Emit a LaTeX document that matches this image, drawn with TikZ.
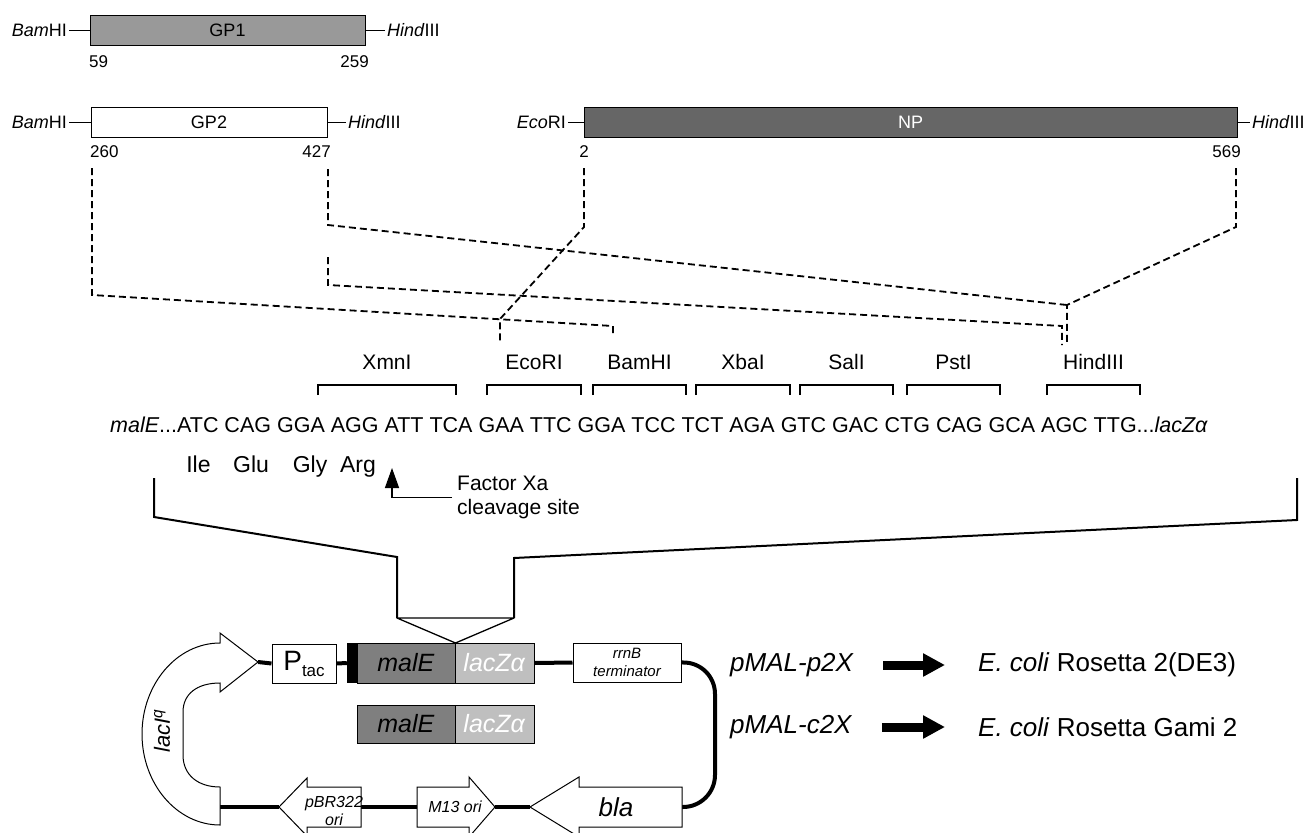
\documentclass[tikz,border=0pt]{standalone}
\usepackage{fontspec}
\setmainfont{Liberation Sans}
\usetikzlibrary{arrows.meta}
\definecolor{gpone}{HTML}{999999}
\definecolor{npgray}{HTML}{666666}
\definecolor{malgray}{HTML}{7F7F7F}
\definecolor{lacgray}{HTML}{BFBFBF}
\newcommand{\fs}[1]{\fontsize{#1}{#1}\selectfont}
\begin{document}
\begin{tikzpicture}[x=1pt,y=-1pt,
  lbl/.style={inner sep=2pt, font=\fs{18}},
  num/.style={inner sep=0pt, font=\fs{17}},
  gbox/.style={draw, line width=1pt, inner sep=0pt, font=\fs{18}, minimum height=30},
  conn/.style={line width=1pt},
  dline/.style={line width=1.8pt, dash pattern=on 7pt off 4pt},
  site/.style={inner sep=0pt, font=\fs{21}},
  brk/.style={line width=1.3pt},
  seq/.style={inner sep=0pt, font=\fs{21.5}, anchor=base west},
  aa/.style={inner sep=0pt, font=\fs{23}, anchor=base},
  bigline/.style={line width=2pt},
  pbox/.style={draw, line width=1pt, inner sep=0pt},
  bb/.style={line width=4pt},
  feat/.style={draw, line width=1pt, fill=white},
  host/.style={inner sep=0pt, anchor=west, font=\fs{26}},
  blockarr/.style={line width=9pt, -{Triangle[length=22pt,width=22pt]}}
]
\useasboundingbox (0,0) rectangle (1310,833);

% ---------- top fragments ----------
\node[gbox, fill=gpone, minimum width=275] (gp1) at (227.5,30) {GP1};
\node[lbl, anchor=east] (bam1) at (69,30) {\textit{Bam}HI};
\node[lbl, anchor=west] (hin1) at (385,30) {\textit{Hind}III};
\draw[conn] (bam1.east) -- (gp1.west);
\draw[conn] (gp1.east) -- (hin1.west);
\node[num, anchor=west] (n59) at (89,62) {59};
\node[num, anchor=east] (n259) at (369,62) {259};

\node[gbox, fill=white, minimum width=236] (gp2) at (209,122) {GP2};
\node[lbl, anchor=east] (bam2) at (69,122) {\textit{Bam}HI};
\node[lbl, anchor=west] (hin2) at (346,122) {\textit{Hind}III};
\draw[conn] (bam2.east) -- (gp2.west);
\draw[conn] (gp2.east) -- (hin2.west);
\node[num, anchor=west] (n260) at (90,152) {260};
\node[num, anchor=east] (n427) at (331,152) {427};

\node[gbox, fill=npgray, text=white, minimum width=653] (np) at (910.5,122) {NP};
\node[lbl, anchor=east] (eco0) at (568,122) {\textit{Eco}RI};
\node[lbl, anchor=west] (hin3) at (1250,122) {\textit{Hind}III};
\draw[conn] (eco0.east) -- (np.west);
\draw[conn] (np.east) -- (hin3.west);
\node[num] (n2) at (584,152) {2};
\node[num, anchor=east] (n569) at (1241,152) {569};

% ---------- dashed mapping lines ----------
\coordinate (a1) at (92,168);
\coordinate (a2) at (92,295);
\coordinate (bamsite) at (613,326);
\coordinate (a3) at (613,333);
\coordinate (e1) at (584,168);
\coordinate (e2) at (584,227);
\coordinate (ej) at (500,319);
\coordinate (e3) at (500,343);
\coordinate (g1) at (328,169);
\coordinate (g2) at (328,225);
\coordinate (hj) at (1067,305);
\coordinate (h3) at (1067,345);
\coordinate (k1) at (328,257);
\coordinate (k2) at (328,285);
\coordinate (k3) at (1062,326);
\coordinate (k4) at (1062,345);
\coordinate (m1) at (1236,168);
\coordinate (m2) at (1236,227);
\draw[dline] (a1) -- (a2) -- (bamsite) -- (a3);
\draw[dline] (e1) -- (e2) -- (ej) -- (e3);
\draw[dline] (g1) -- (g2) -- (hj);
\draw[dline] (k1) -- (k2) -- (k3) -- (k4);
\draw[dline] (m1) -- (m2) -- (hj) -- (h3);

% ---------- restriction sites ----------
\foreach \a/\b/\n/\t in {318/456/sxmn/XmnI, 487/581/seco/EcoRI, 593/686/sbam/BamHI,
   696/790/sxba/XbaI, 800/893/ssal/SalI, 907/1000/spst/PstI, 1047/1140/shin/HindIII}{
  \draw[brk] (\a,395) -- (\a,385) -- (\b,385) -- (\b,395);
  \node[site] (\n) at ({(\a+\b)/2},362) {\t};
}

% ---------- sequence ----------
\node[seq] (seq) at (110,432) {\textit{malE}...ATC CAG GGA AGG ATT TCA GAA TTC GGA TCC TCT AGA GTC GAC CTG CAG GCA AGC TTG...\textit{lacZα}};
\node[aa] (ile) at (198.5,472) {Ile};
\node[aa] (glu) at (251,472) {Glu};
\node[aa] (gly) at (310,472) {Gly};
\node[aa] (arg) at (358,472) {Arg};

\node[inner sep=0pt, font=\fs{21}, anchor=west, align=left] (fxa) at (457,497.5) {Factor Xa\\[3pt]cleavage site};
\coordinate (fxcorner) at (392,497.5);
\coordinate (fxtip) at (392,468);
\draw[line width=1.4pt, -{Triangle[length=20pt,width=14pt]}, shorten <=5pt] (fxa.west) -- (fxcorner) -- (fxtip);

% ---------- insertion bracket ----------
\coordinate (lb1) at (154,478);
\coordinate (lb2) at (154,517);
\coordinate (lb3) at (397,557);
\coordinate (lb4) at (397,618);
\coordinate (rb1) at (1297,478);
\coordinate (rb2) at (1297,520);
\coordinate (rb3) at (514,558);
\coordinate (rb4) at (514,618);
\coordinate (apex) at (455.5,643);
\draw[bigline] (lb1) -- (lb2) -- (lb3) -- (lb4);
\draw[bigline] (rb1) -- (rb2) -- (rb3) -- (rb4);
\draw[line width=1.3pt, line join=round] (lb4) -- (rb4) -- (apex) -- cycle;

% ---------- plasmid backbone ----------
\coordinate (laciend) at (220,807);
\coordinate (lacitip) at (258,662);
\coordinate (pbrtip) at (279,807);
\coordinate (pbrright) at (361,807);
\coordinate (m13left) at (417,807);
\coordinate (m13tip) at (495,807);
\coordinate (blatip) at (530,807);
\coordinate (blaright) at (682,807);
\coordinate (rc1) at (715,662);
\coordinate (rc2) at (715,807);

\node[pbox, fill=white, minimum width=64, minimum height=39] (ptac) at (304,663.5) {{\fs{28}P}{\fs{17}\raisebox{-6pt}{tac}}};
\node[fill=black, minimum width=10, minimum height=40, inner sep=0pt] (bar) at (352,663) {};
\node[pbox, fill=malgray, minimum width=98, minimum height=40] (male) at (406,663) {\fs{25}\textit{malE}};
\node[pbox, fill=lacgray, text=white, minimum width=79, minimum height=40] (lacz) at (494.5,663) {\fs{25}\textit{lacZα}};
\node[pbox, fill=malgray, minimum width=98, minimum height=38] (male2) at (406,724) {\fs{25}\textit{malE}};
\node[pbox, fill=lacgray, text=white, minimum width=79, minimum height=38] (lacz2) at (494.5,724) {\fs{25}\textit{lacZα}};
\node[pbox, fill=white, minimum width=108, minimum height=39, align=center, font=\fs{15}\itshape] (rrnb) at (627,662.5) {rrnB\\[3pt]terminator};

\draw[bb] (lacitip) -- (ptac.west);
\draw[bb] (ptac.east) -- (bar.west);
\draw[bb] (lacz.east) -- (rrnb.west);
\draw[bb, rounded corners=32pt] (rrnb.east) -- (rc1) -- (rc2) -- (blaright);
\draw[bb] (laciend) -- (pbrtip);
\draw[bb] (pbrright) -- (m13left);
\draw[bb] (m13tip) -- (blatip);

% lacI^q curved arrow
\draw[feat] (lacitip) -- (220,633) -- (220,643)
  .. controls (177,643) and (142,684) .. (142,734)
  .. controls (142,784) and (177,825) .. (220,825)
  -- (220,787)
  .. controls (198,787) and (183,775) .. (183,755)
  -- (183,712)
  .. controls (183,694) and (197,683) .. (220,683)
  -- (220,692) -- cycle;
\node[rotate=90, inner sep=0pt, font=\fs{22}\itshape] (laci) at (162,731) {lacI\textsuperscript{q}};

% pBR322 ori
\draw[feat] (pbrtip) -- (307,778) -- (307,787) -- (361,787) -- (361,827) -- (307,827) -- (307,836) -- cycle;
\node[inner sep=0pt, font=\fs{16}\itshape, align=center] (pbr) at (334,811) {pBR322\\[2pt]ori};
% M13 ori
\draw[feat] (m13tip) -- (469,777) -- (469,787) -- (417,787) -- (417,827) -- (469,827) -- (469,837) -- cycle;
\node[inner sep=0pt, font=\fs{16}\itshape] (m13) at (455,807) {M13 ori};
% bla
\draw[feat] (blatip) -- (579,777) -- (579,787) -- (682,787) -- (682,827) -- (579,827) -- (579,837) -- cycle;
\node[inner sep=0pt, font=\fs{26}\itshape] (bla) at (616,807) {bla};

% ---------- vectors and hosts ----------
\node[host, font=\fs{26}\itshape] (p2x) at (730,665) {pMAL-p2X};
\node[host] (ec1) at (978,665) {\textit{E. coli} Rosetta 2(DE3)};
\node[host, font=\fs{26}\itshape] (c2x) at (730,727) {pMAL-c2X};
\node[host] (ec2) at (978,727) {\textit{E. coli} Rosetta Gami 2};
\draw[blockarr, shorten <=30pt, shorten >=33pt] (p2x.east) -- (ec1.west);
\draw[blockarr, shorten <=30pt, shorten >=33pt] (c2x.east) -- (ec2.west);
\end{tikzpicture}
\end{document}
